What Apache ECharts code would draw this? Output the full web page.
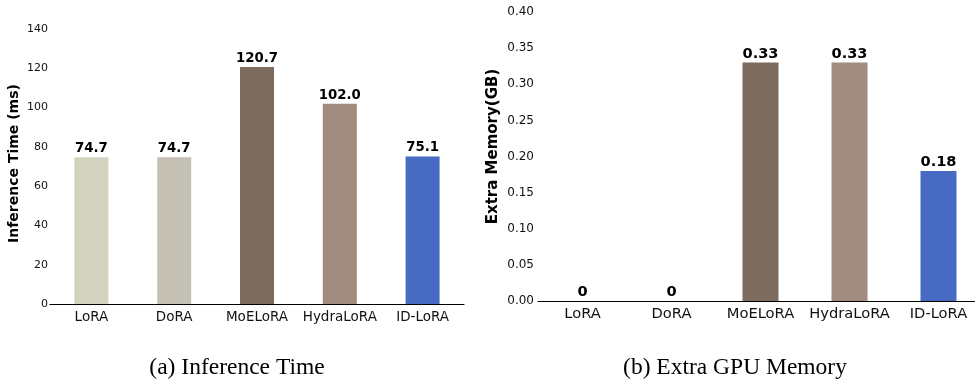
<!DOCTYPE html>
<html>
<head>
<meta charset="utf-8">
<script src="https://cdn.jsdelivr.net/npm/echarts@6/dist/echarts.min.js"></script>
<style>
html, body { margin: 0; padding: 0; background: #fff; }
#chart { width: 975px; height: 379px; }
</style>
</head>
<body>
<div id="chart"></div>
<script>
const methods = ['LoRA', 'DoRA', 'MoELoRA', 'HydraLoRA', 'ID-LoRA']
const inferenceTime = [74.7, 74.7, 120.7, 102.0, 75.1]
const extraMemory = [0, 0, 0.33, 0.33, 0.18]
const colors = ['#d3d2c0', '#c4c1b4', '#7d6b5f', '#a18b7e', '#476bc2']

const font = 'DejaVu Sans'

const barData = (values) => values.map((value, i) => ({
    value,
    itemStyle: { color: colors[i] }
}))

const xAxisBase = (gridIndex, size) => ({
    type: 'category',
    gridIndex,
    data: methods,
    axisLine: { lineStyle: { color: '#000', width: 1.2 } },
    axisTick: { alignWithLabel: true, interval: 0, length: 4, lineStyle: { color: '#000' } },
    axisLabel: { interval: 0, color: '#111', fontSize: size, fontFamily: font, margin: 6 }
})

const yAxisBase = (gridIndex) => ({
    type: 'value',
    gridIndex,
    axisLine: { show: false },
    axisTick: { show: false },
    splitLine: { show: false },
    nameLocation: 'middle'
})

const captionStyle = { fontFamily: 'Liberation Serif', fontSize: 23.5, fontWeight: 'normal', color: '#000' }

const chart = echarts.init(document.getElementById('chart'))
chart.setOption({
    animation: false,
    title: [
        { text: '(a) Inference Time', left: 232, top: 351, textAlign: 'center', textStyle: captionStyle },
        { text: '(b) Extra GPU Memory', left: 730, top: 351, textAlign: 'center', textStyle: captionStyle }
    ],
    grid: [
        { left: 50, top: 29, width: 414, height: 275, outerBoundsMode: 'none' },
        { left: 538, top: 12, width: 445, height: 289, outerBoundsMode: 'none' }
    ],
    xAxis: [xAxisBase(0, 13.5), xAxisBase(1, 14.7)],
    yAxis: [
        Object.assign(yAxisBase(0), {
            min: 0, max: 140, interval: 20,
            name: 'Inference Time (ms)', nameGap: 29,
            nameTextStyle: { color: '#000', fontSize: 14, fontWeight: 'bold', fontFamily: font, padding: [0, 0, 0, 6] },
            axisLabel: { color: '#111', fontSize: 11, fontFamily: font, margin: 2 }
        }),
        Object.assign(yAxisBase(1), {
            min: 0, max: 0.4, interval: 0.05,
            name: 'Extra Memory(GB)', nameGap: 37,
            nameTextStyle: { color: '#000', fontSize: 15, fontWeight: 'bold', fontFamily: font, padding: [0, 0, 0, 20] },
            axisLabel: { color: '#111', fontSize: 12, fontFamily: font, margin: 4, formatter: v => v.toFixed(2) }
        })
    ],
    series: [
        {
            type: 'bar',
            xAxisIndex: 0, yAxisIndex: 0,
            barWidth: 34,
            data: barData(inferenceTime),
            label: {
                show: true, position: 'top', distance: 2,
                color: '#000', fontSize: 13.3, fontWeight: 'bold', fontFamily: font,
                formatter: p => p.value.toFixed(1)
            }
        },
        {
            type: 'bar',
            xAxisIndex: 1, yAxisIndex: 1,
            barWidth: 36,
            data: barData(extraMemory),
            label: {
                show: true, position: 'top', distance: 1,
                color: '#000', fontSize: 14.6, fontWeight: 'bold', fontFamily: font,
                formatter: p => p.value === 0 ? '0' : p.value.toFixed(2)
            }
        }
    ]
})
</script>
</body>
</html>
